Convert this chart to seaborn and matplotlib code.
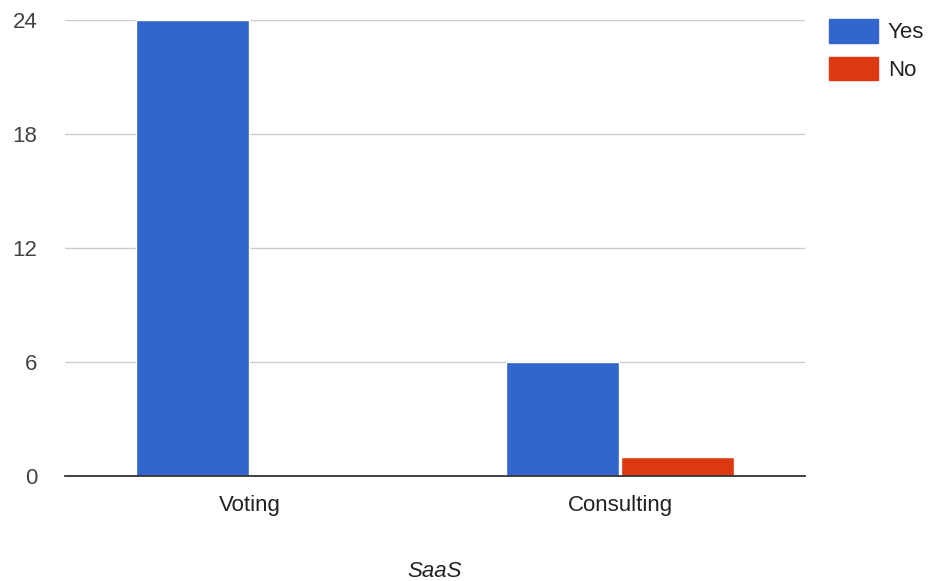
import matplotlib
matplotlib.use("Agg")
import matplotlib.pyplot as plt
import seaborn as sns
import pandas as pd
from matplotlib.patches import Patch

categories = ["Voting", "Consulting"]
yes_values = [24, 6]
no_values = [0, 1]
series = ["Yes", "No"]
colors = ["#3366cc", "#dc3912"]
yticks = [0, 6, 12, 18, 24]

df = pd.DataFrame({
    "category": categories * 2,
    "answer": ["Yes"] * len(categories) + ["No"] * len(categories),
    "value": yes_values + no_values,
})

sns.set_theme(style="white")
plt.rcParams['font.family'] = ['Liberation Sans', 'DejaVu Sans']

FS = 16

fig = plt.figure(figsize=(9.30, 5.81), dpi=100)
ax = fig.add_axes([65/930, 1-476/581, 740/930, 456/581])

sns.barplot(data=df, x="category", y="value", hue="answer", hue_order=series,
            palette=colors, width=0.62, gap=0.01, saturation=1, ax=ax,
            legend=False, errorbar=None)

ax.set_ylim(0, 24)
ax.set_xlim(-0.5, 1.5)
ax.set_yticks(yticks)
ax.set_yticklabels([str(t) for t in yticks], fontsize=FS, color="#444444")
ax.tick_params(axis="x", labelsize=FS, length=0, pad=14)
ax.tick_params(axis="y", length=0, pad=20)
for lab in ax.get_xticklabels():
    lab.set_color("#222222")
ax.yaxis.grid(True, color="#cccccc", linewidth=1)
ax.set_axisbelow(True)
for s in ["top", "right", "left"]:
    ax.spines[s].set_visible(False)
ax.spines["bottom"].set_color("#333333")
ax.spines["bottom"].set_linewidth(1.3)
ax.spines["bottom"].set_zorder(5)
ax.set_ylabel("")
ax.set_xlabel("SaaS", fontsize=FS, style="italic", color="#222222", labelpad=32)

handles = [Patch(facecolor=c, edgecolor=c) for c in colors]
fig.legend(handles, series, loc="upper left", bbox_to_anchor=(829/930, 1-19/581),
           frameon=False, fontsize=FS, handlelength=2.2, handleheight=1.25,
           handletextpad=0.45, labelspacing=0.6, borderpad=0, borderaxespad=0,
           labelcolor="#222222")

fig.savefig("out.png", dpi=100)
